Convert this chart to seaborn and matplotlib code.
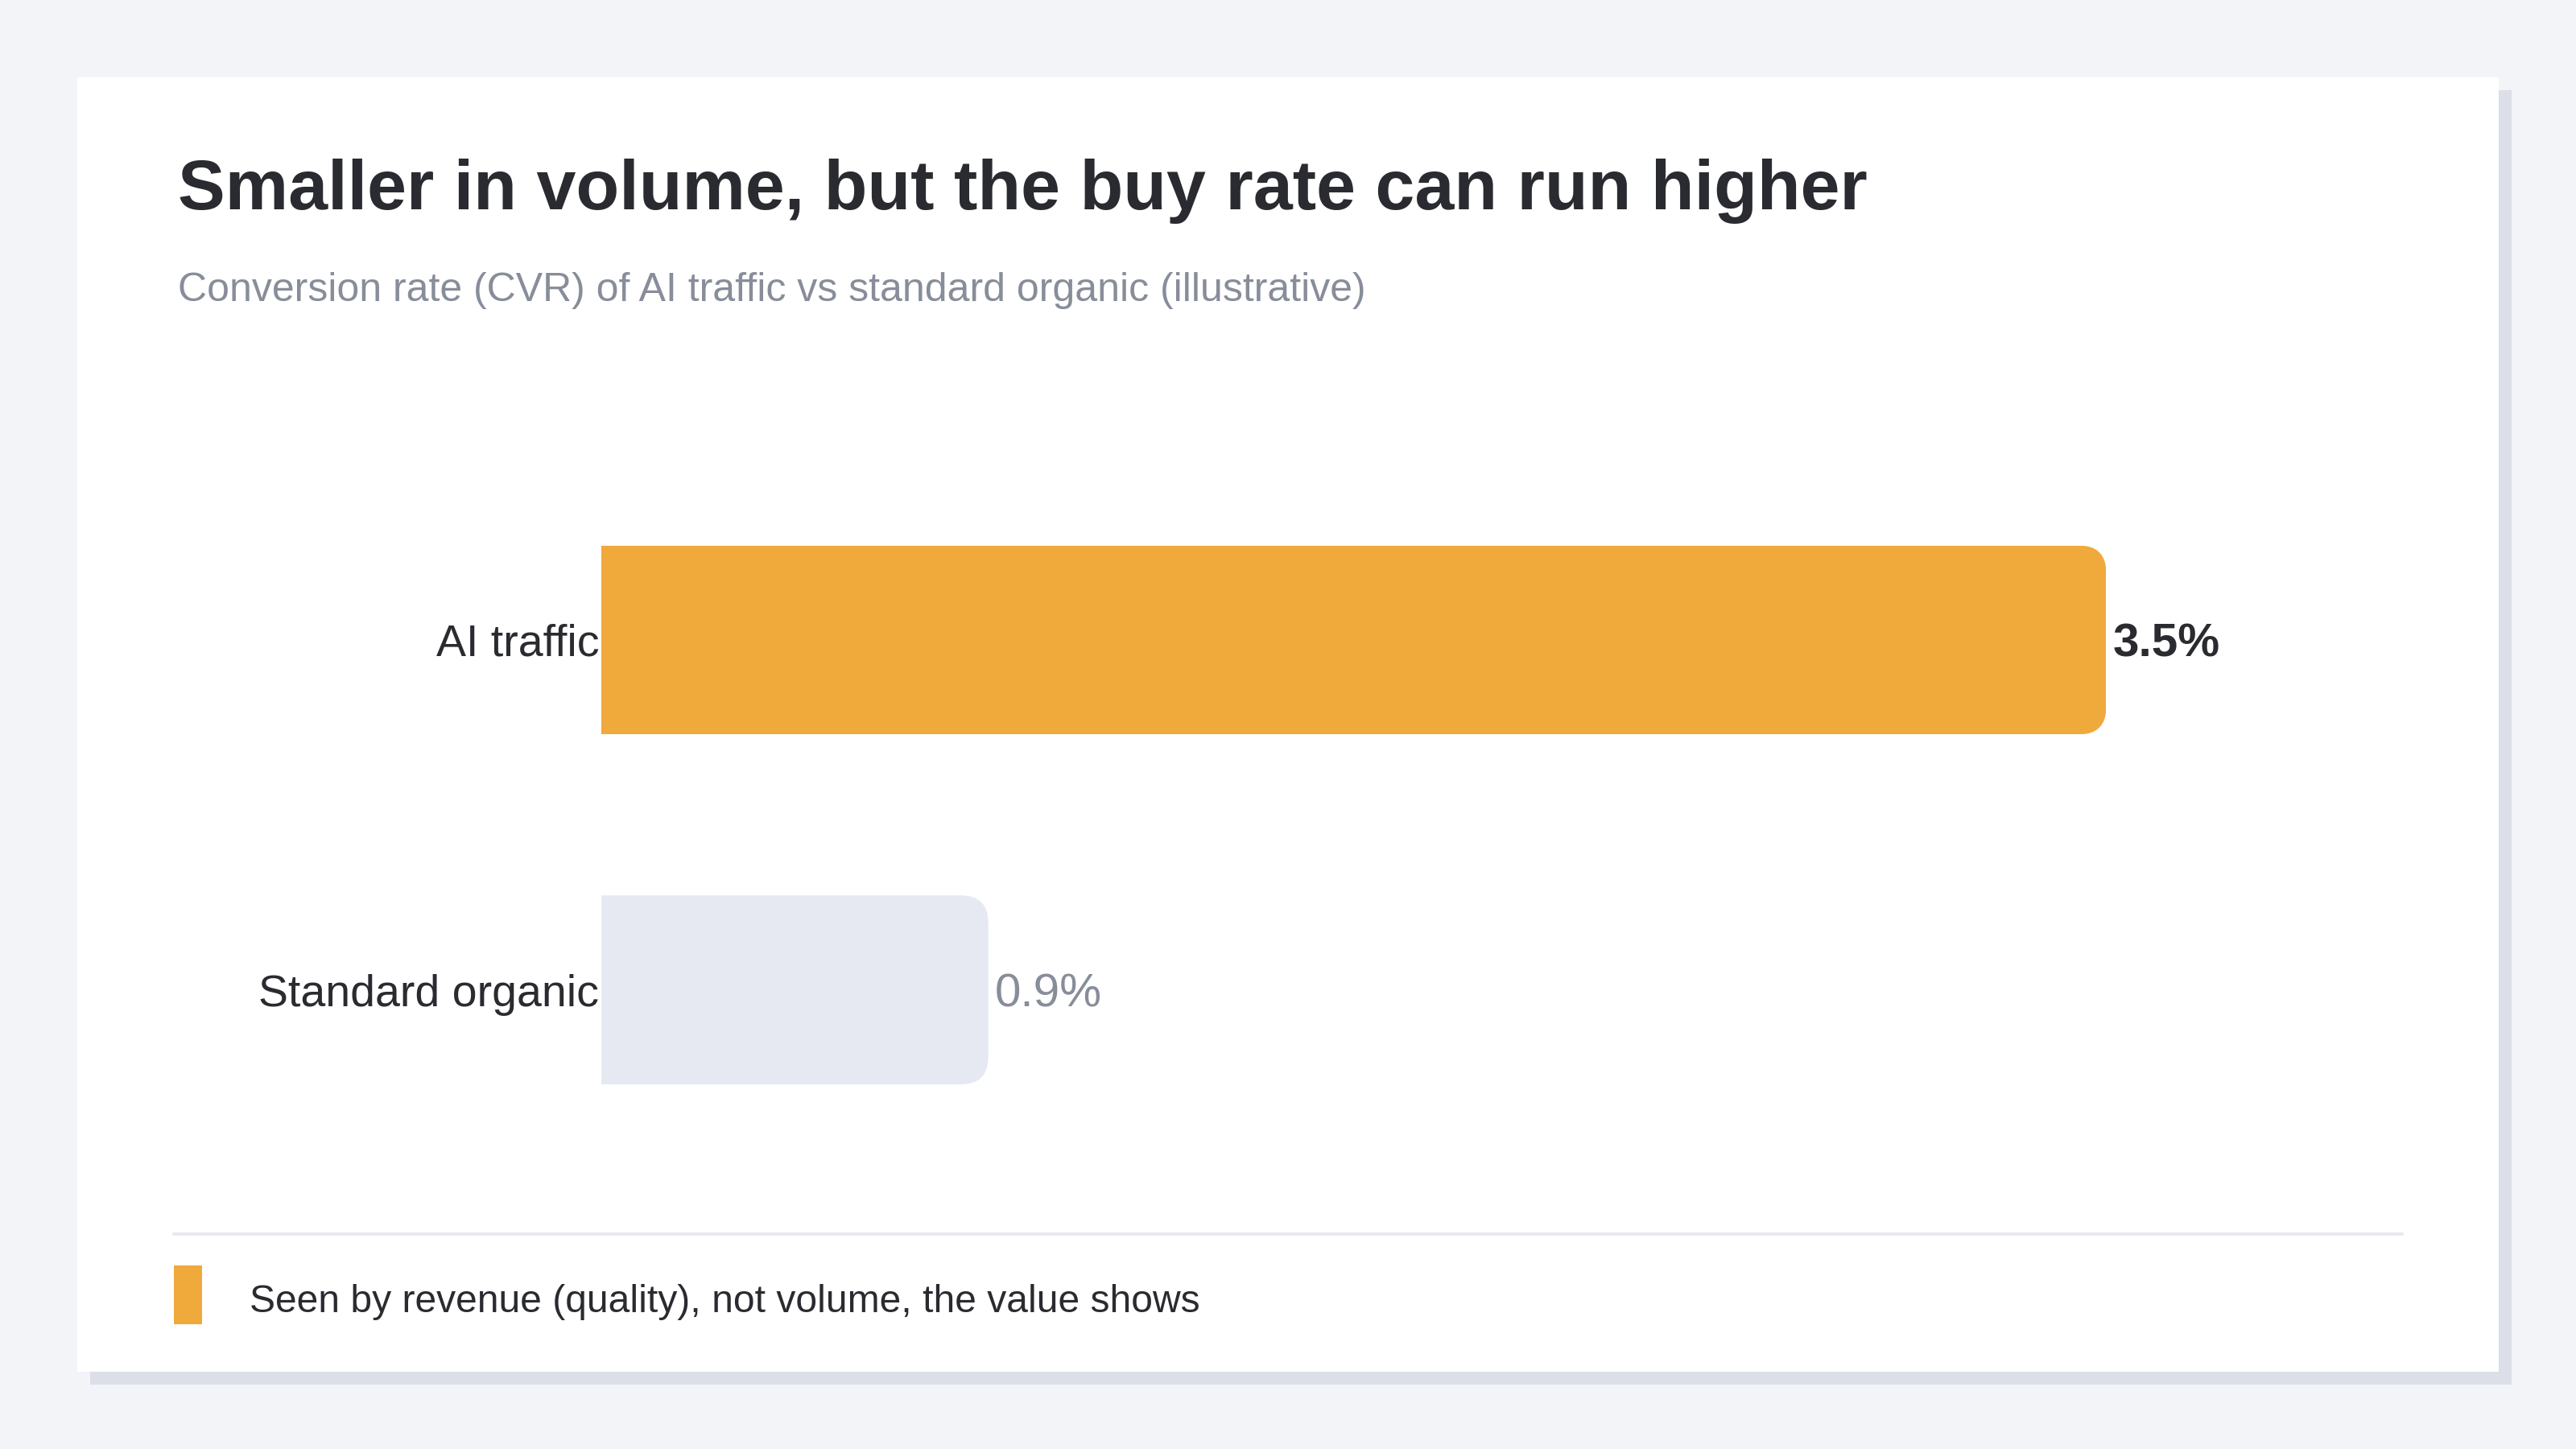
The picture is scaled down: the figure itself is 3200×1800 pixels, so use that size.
import matplotlib
matplotlib.use("Agg")
import seaborn as sns
import matplotlib.pyplot as plt
from matplotlib.patches import FancyBboxPatch, Rectangle
from matplotlib.lines import Line2D
from matplotlib.transforms import IdentityTransform

# data
categories = ["AI traffic", "Standard organic"]
cvr_values = [3.5, 0.9]
value_labels = ["3.5%", "0.9%"]
bar_colors = ["#F0A93B", "#E6E9F1"]

title = "Smaller in volume, but the buy rate can run higher"
subtitle = "Conversion rate (CVR) of AI traffic vs standard organic (illustrative)"
footnote = "Seen by revenue (quality), not volume, the value shows"

BG = "#F3F4F8"
CARD = "#FFFFFF"
SHADOW = "#DCDFE7"
DARK = "#2A2B30"
GRAY = "#878D99"
DIVIDER = "#E8EAEF"

W, H = 3200, 1800


def fx(px):
    return px / W


def fy(px):
    # pixel from top -> figure fraction from bottom
    return 1 - px / H


sns.set_theme(style="white")
plt.rcParams['font.family'] = ['Liberation Sans', 'DejaVu Sans']

fig = plt.figure(figsize=(16, 9), dpi=200, facecolor=BG)

# card with shadow, kept behind the axes
fig.patches.append(Rectangle((fx(112), fy(1720)), fx(3008), 1608 / H,
                             transform=fig.transFigure, fc=SHADOW, ec="none", zorder=-3))
fig.patches.append(Rectangle((fx(96), fy(1704)), fx(3008), 1608 / H,
                             transform=fig.transFigure, fc=CARD, ec="none", zorder=-2))

ax = fig.add_axes([0.2334, 0.1961, 0.6677, 0.483])
ax.set_facecolor("none")

sns.barplot(x=cvr_values, y=categories, hue=categories, palette=bar_colors,
            orient="h", width=0.54, saturation=1, legend=False, linewidth=0, ax=ax)

ax.set_xlim(0, 4.0)
ax.set_ylim(1.5, -0.5)
ax.set_xticks([])
ax.set_xlabel("")
ax.set_ylabel("")
ax.tick_params(axis="y", length=0, pad=1, labelsize=20, labelcolor=DARK)
sns.despine(ax=ax, left=True, bottom=True)

# round the right-hand corners of each bar
radius = 34
for bar in ax.patches:
    (x0, y0), (x1, y1) = ax.transData.transform(
        [[bar.get_x(), bar.get_y()],
         [bar.get_x() + bar.get_width(), bar.get_y() + bar.get_height()]])
    left, right = min(x0, x1), max(x0, x1)
    bottom, top = min(y0, y1), max(y0, y1)
    clip = FancyBboxPatch((left - 3 * radius, bottom), right - left + 3 * radius, top - bottom,
                          boxstyle=f"round,pad=0,rounding_size={radius}",
                          transform=IdentityTransform())
    bar.set_clip_path(clip)

# value labels
for i, (val, lab) in enumerate(zip(cvr_values, value_labels)):
    ax.annotate(lab, xy=(val, i), xytext=(3, 0), textcoords="offset points",
                ha="left", va="center_baseline", fontsize=21,
                fontweight="bold" if i == 0 else "normal",
                color=DARK if i == 0 else GRAY)

# titles
fig.text(fx(221), fy(260), title, fontsize=31.7, fontweight="bold", color=DARK, va="baseline")
fig.text(fx(221), fy(374), subtitle, fontsize=18, color=GRAY, va="baseline")

# divider and footnote
fig.add_artist(Line2D([fx(216), fx(2984)], [fy(1533), fy(1533)],
                      transform=fig.transFigure, color=DIVIDER, lw=1.5))
fig.patches.append(Rectangle((fx(216), fy(1645)), fx(35), 73 / H,
                             transform=fig.transFigure, fc=bar_colors[0], ec="none"))
fig.text(fx(310), fy(1612), footnote, fontsize=17.3, color=DARK, va="center_baseline")

fig.savefig("out.png", dpi=200, facecolor=BG)
